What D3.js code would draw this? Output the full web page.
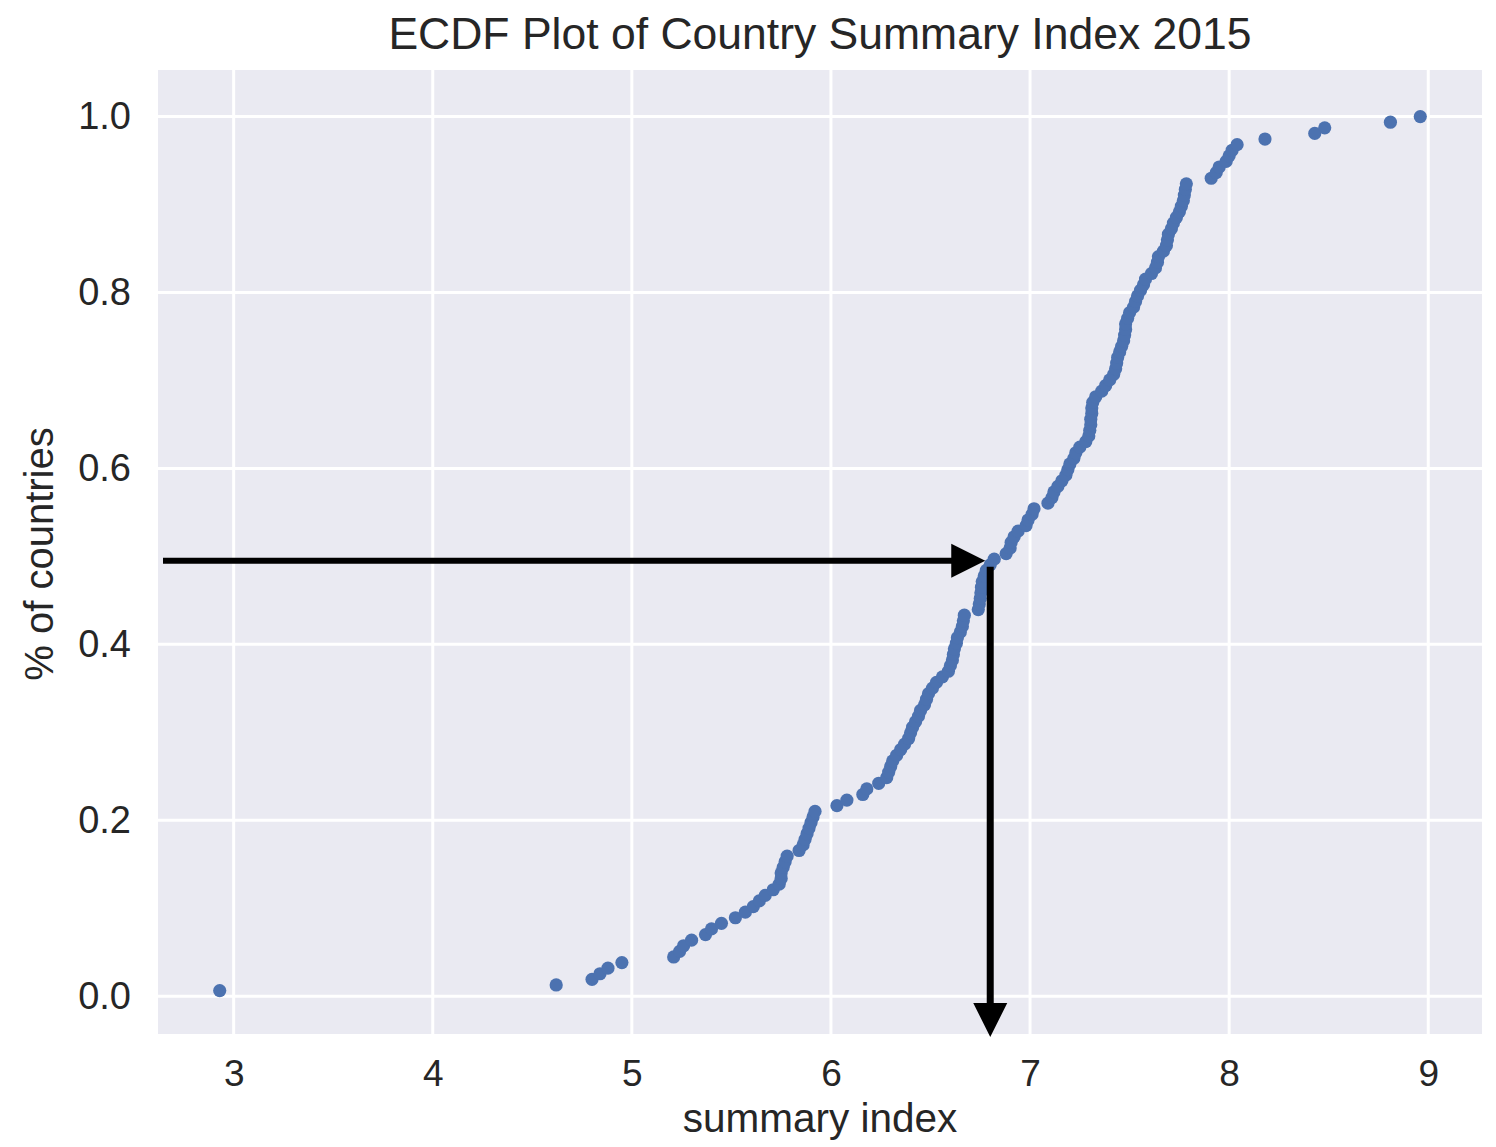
<!DOCTYPE html>
<html>
<head>
<meta charset="utf-8">
<script src="https://cdn.jsdelivr.net/npm/d3@7"></script>
<style>
  html, body { margin: 0; padding: 0; background: #ffffff; }
  svg { display: block; }
  text { font-family: "Liberation Sans", Arial, sans-serif; fill: #262626; }
</style>
</head>
<body>
<svg id="chart" width="1496" height="1147"></svg>
<script>
// Summary index of each country, 2015 (sorted ascending)
const summaryIndex = [
  2.93, 4.62, 4.80, 4.84, 4.88, 4.95,
  5.21, 5.24, 5.26, 5.30, 5.37, 5.40, 5.45, 5.52, 5.57, 5.61,
  5.64, 5.67, 5.71, 5.74, 5.75, 5.75, 5.76, 5.77, 5.78, 5.84,
  5.86, 5.87, 5.88, 5.89, 5.90, 5.91, 5.92, 6.03, 6.08, 6.16,
  6.18, 6.24,
  6.28, 6.29, 6.30, 6.31, 6.33, 6.35, 6.37, 6.39, 6.40, 6.41,
  6.425, 6.44, 6.45, 6.47, 6.48, 6.49, 6.51, 6.53, 6.56, 6.59,
  6.60, 6.61, 6.615, 6.62, 6.63, 6.635, 6.65, 6.66, 6.665, 6.67,
  6.74, 6.745, 6.75, 6.753, 6.756, 6.76, 6.77, 6.78, 6.80,
  6.82, 6.88, 6.90, 6.905, 6.92, 6.94, 6.98, 6.99, 7.01, 7.02,
  7.09, 7.11, 7.12, 7.14, 7.16, 7.18, 7.19, 7.20, 7.22, 7.23,
  7.25, 7.28, 7.295, 7.30, 7.305, 7.305, 7.31, 7.31, 7.315, 7.33,
  7.36, 7.38, 7.40, 7.42, 7.43, 7.435, 7.44, 7.45, 7.46, 7.47,
  7.475, 7.48, 7.48, 7.49, 7.50, 7.52, 7.53, 7.54, 7.555, 7.57,
  7.58, 7.61, 7.63, 7.64, 7.645, 7.67, 7.685, 7.69, 7.695, 7.71,
  7.72, 7.735, 7.75, 7.76, 7.77, 7.775, 7.78, 7.785,
  7.91, 7.935, 7.95, 7.985, 8.00, 8.015, 8.04, 8.18, 8.43, 8.48,
  8.81, 8.96
];

const xTicks = [3, 4, 5, 6, 7, 8, 9];
const yTicks = [0.0, 0.2, 0.4, 0.6, 0.8, 1.0];

// Median read-off guide: horizontal at the 50% level, vertical at the median score
const guideLevel = [0.495];
const guideMedian = [6.80];

const titleText = "ECDF Plot of Country Summary Index 2015";
const xLabelText = "summary index";
const yLabelText = "% of countries";

// ECDF points: each value paired with its cumulative share
const n = summaryIndex.length;
const points = summaryIndex.map((v, i) => ({ x: v, y: (i + 1) / n }));

const svg = d3.select("#chart");
const plot = { left: 158, right: 1482, top: 70, bottom: 1034 };

const x = d3.scaleLinear().domain([2.62, 9.27]).range([plot.left, plot.right]);
const y = d3.scaleLinear().domain([-0.043, 1.053]).range([plot.bottom, plot.top]);

// Panel background
svg.append("rect")
  .attr("x", plot.left).attr("y", plot.top)
  .attr("width", plot.right - plot.left).attr("height", plot.bottom - plot.top)
  .attr("fill", "#EAEAF2");

// Grid lines
const grid = svg.append("g").attr("stroke", "#ffffff").attr("stroke-width", 3);
grid.selectAll("line.vx").data(xTicks).join("line")
  .attr("x1", d => x(d)).attr("x2", d => x(d))
  .attr("y1", plot.top).attr("y2", plot.bottom);
grid.selectAll("line.hy").data(yTicks).join("line")
  .attr("x1", plot.left).attr("x2", plot.right)
  .attr("y1", d => y(d)).attr("y2", d => y(d));

// Axes (labels only, seaborn darkgrid has no spines or tick marks)
const xAxis = svg.append("g")
  .attr("transform", `translate(0,${plot.bottom})`)
  .call(d3.axisBottom(x).tickValues(xTicks).tickFormat(d3.format("d")).tickSize(0).tickPadding(26));
xAxis.select(".domain").remove();
xAxis.selectAll("text").attr("font-size", 37).attr("fill", "#2b2b2b")
  .style("font-family", "'Liberation Sans', Arial, sans-serif");

const yAxis = svg.append("g")
  .attr("transform", `translate(${plot.left},0)`)
  .call(d3.axisLeft(y).tickValues(yTicks).tickFormat(d3.format(".1f")).tickSize(0).tickPadding(27));
yAxis.select(".domain").remove();
yAxis.selectAll("text").attr("font-size", 38).attr("fill", "#2b2b2b")
  .style("font-family", "'Liberation Sans', Arial, sans-serif");

// ECDF dots
svg.append("g").selectAll("circle").data(points).join("circle")
  .attr("cx", d => x(d.x))
  .attr("cy", d => y(d.y))
  .attr("r", 6.6)
  .attr("fill", "#4C72B0");

// Title and axis labels
svg.append("text")
  .attr("x", (plot.left + plot.right) / 2).attr("y", 49)
  .attr("text-anchor", "middle").attr("font-size", 44.5)
  .text(titleText);

svg.append("text")
  .attr("x", (plot.left + plot.right) / 2).attr("y", 1132)
  .attr("text-anchor", "middle").attr("font-size", 40.5)
  .text(xLabelText);

svg.append("text")
  .attr("transform", `translate(53,${(plot.top + plot.bottom) / 2 + 2}) rotate(-90)`)
  .attr("text-anchor", "middle").attr("font-size", 40)
  .text(yLabelText);

// Guide arrows
const hy = y(guideLevel[0]);
const vx = x(guideMedian[0]);
const head = 34, halfW = 17;
const arrows = svg.append("g");
arrows.append("line")
  .attr("x1", 163).attr("x2", vx - head - 2)
  .attr("y1", hy).attr("y2", hy)
  .attr("stroke", "#000").attr("stroke-width", 6);
arrows.append("path")
  .attr("d", `M${vx - 5},${hy} L${vx - 5 - head},${hy - halfW} L${vx - 5 - head},${hy + halfW} Z`)
  .attr("fill", "#000");
arrows.append("line")
  .attr("x1", vx).attr("x2", vx)
  .attr("y1", hy + 6).attr("y2", 1004)
  .attr("stroke", "#000").attr("stroke-width", 7);
arrows.append("path")
  .attr("d", `M${vx},1037 L${vx - halfW},1003 L${vx + halfW},1003 Z`)
  .attr("fill", "#000");
</script>
</body>
</html>
